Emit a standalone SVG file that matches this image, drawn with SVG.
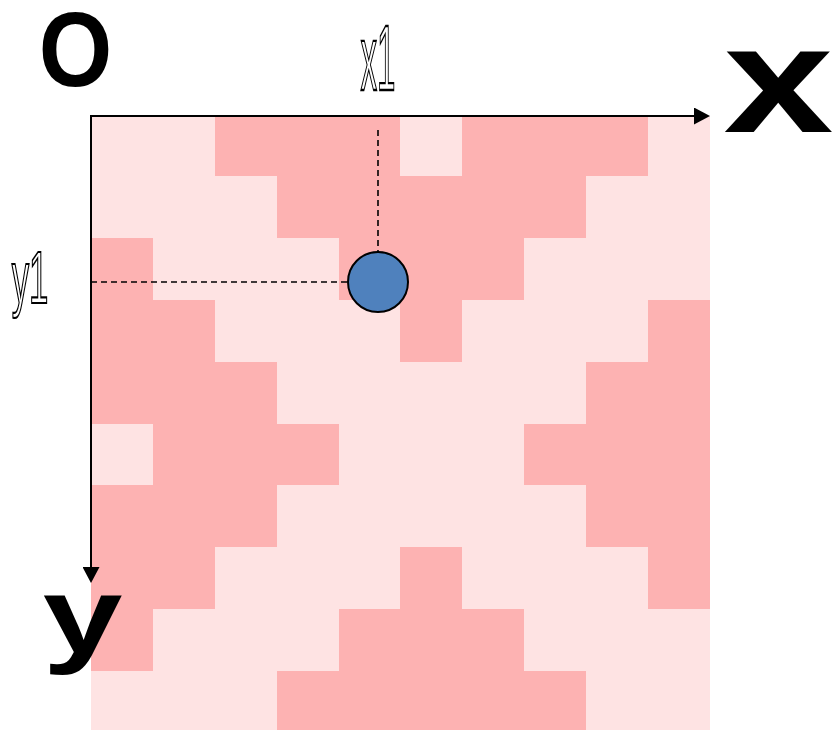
<svg xmlns="http://www.w3.org/2000/svg" width="832" height="730" viewBox="0 0 832 730">
<style>
.lt{fill:#FEE3E3}
.dk{fill:#FDB2B2}
.axis{stroke:#000;stroke-width:2;fill:none}
.dash{stroke:#000;stroke-width:1.6;stroke-dasharray:6 4;fill:none}
.big{font-family:"Liberation Sans",Arial,sans-serif;font-weight:bold;fill:#000;text-anchor:middle}
.out{font-family:"Liberation Sans",Arial,sans-serif;fill:#fff;stroke:#000;stroke-width:1.7;text-anchor:middle;vector-effect:non-scaling-stroke}
</style>
<defs>
<marker id="arr" markerUnits="userSpaceOnUse" markerWidth="16" markerHeight="17" refX="8" refY="8.5" orient="auto">
<path d="M0,0 L16,8.5 L0,17 Z" fill="#000"/>
</marker>
</defs>
<g id="grid">
<rect class="lt" x="91" y="116" width="619" height="614"/>
<rect class="dk" x="215" y="116" width="185" height="60"/>
<rect class="dk" x="462" y="116" width="186" height="60"/>
<rect class="dk" x="277" y="176" width="309" height="62"/>
<rect class="dk" x="91" y="238" width="62" height="62"/>
<rect class="dk" x="339" y="238" width="185" height="62"/>
<rect class="dk" x="91" y="300" width="124" height="62"/>
<rect class="dk" x="400" y="300" width="62" height="62"/>
<rect class="dk" x="648" y="300" width="62" height="62"/>
<rect class="dk" x="91" y="362" width="186" height="62"/>
<rect class="dk" x="586" y="362" width="124" height="62"/>
<rect class="dk" x="153" y="424" width="186" height="61"/>
<rect class="dk" x="524" y="424" width="186" height="61"/>
<rect class="dk" x="91" y="485" width="186" height="62"/>
<rect class="dk" x="586" y="485" width="124" height="62"/>
<rect class="dk" x="91" y="547" width="124" height="62"/>
<rect class="dk" x="400" y="547" width="62" height="62"/>
<rect class="dk" x="648" y="547" width="62" height="62"/>
<rect class="dk" x="91" y="609" width="62" height="62"/>
<rect class="dk" x="339" y="609" width="185" height="62"/>
<rect class="dk" x="277" y="671" width="309" height="59"/>
</g>
<g id="connectors">
<line class="axis" x1="91" y1="116" x2="702" y2="116" marker-end="url(#arr)"/>
<line class="axis" x1="91" y1="115" x2="91" y2="575" marker-end="url(#arr)"/>
<line class="dash" x1="378" y1="130" x2="378" y2="252"/>
<line class="dash" x1="91" y1="282" x2="364" y2="282"/>
</g>
<g id="point">
<circle cx="378" cy="282" r="30" fill="#4F81BD" stroke="#000" stroke-width="2"/>
</g>
<g id="labels">
<text class="big" transform="translate(75.5,86) scale(0.9,1)" font-size="105">O</text>
<text class="big" transform="translate(778.5,132) scale(1.3,1)" font-size="152">x</text>
<text class="big" transform="translate(82.5,653) scale(1.34,1)" font-size="107">y</text>
<text class="out" transform="translate(378,90) scale(0.36,1)" font-size="92">x1</text>
<text class="out" transform="translate(30,303) scale(0.47,1)" font-size="74">y1</text>
</g>
</svg>
